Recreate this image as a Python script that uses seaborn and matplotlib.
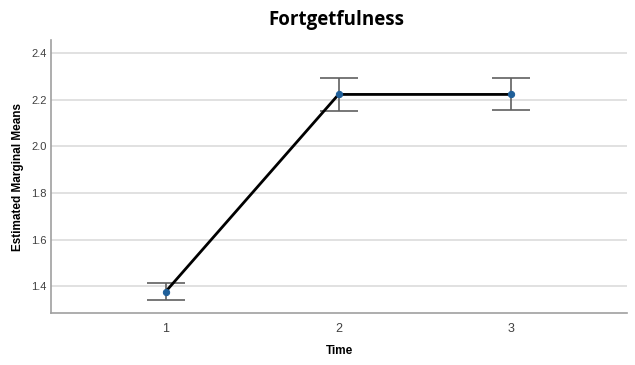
import numpy as np
import pandas as pd
import matplotlib
matplotlib.use("Agg")
import matplotlib.pyplot as plt
import seaborn as sns

# Data
time_points = [1, 2, 3]
means = [1.376, 2.223, 2.223]
err_upper = [1.413, 2.293, 2.293]
err_lower = [1.340, 2.150, 2.155]

df = pd.DataFrame({"Time": time_points, "Mean": means})

sns.set_style("white")
plt.rcParams['font.family'] = ['Liberation Sans', 'DejaVu Sans']

fig = plt.figure(figsize=(6.35, 3.65), dpi=100)
ax = fig.add_axes([0.081, 0.142, 0.907, 0.748])

# grid lines
ax.yaxis.grid(True, color='#dcdcdc', linewidth=1.2)
ax.set_axisbelow(True)

# error bars
yerr = np.array([
    np.array(means) - np.array(err_lower),
    np.array(err_upper) - np.array(means),
])
ax.errorbar(time_points, means, yerr=yerr, fmt='none', ecolor='#606060',
            elinewidth=1.2, capsize=14, capthick=1.2, zorder=2)

sns.lineplot(data=df, x="Time", y="Mean", ax=ax, color='black', linewidth=2,
             marker='o', markersize=4.5, markerfacecolor='#1f5f99',
             markeredgecolor='#1f5f99', zorder=3)

ax.set_xlim(0.34, 3.67)
ax.set_ylim(1.284, 2.456)
ax.set_xticks(time_points)
ax.set_xticklabels([str(t) for t in time_points])
ax.set_yticks([1.4, 1.6, 1.8, 2.0, 2.2, 2.4])
ax.set_yticklabels(['1.4', '1.6', '1.8', '2.0', '2.2', '2.4'])
ax.tick_params(axis='both', length=0, labelcolor='#404040', labelsize=8)
ax.tick_params(axis='x', pad=7, labelsize=9)

for side in ['top', 'right']:
    ax.spines[side].set_visible(False)
for side in ['left', 'bottom']:
    ax.spines[side].set_color('#a0a0a0')
    ax.spines[side].set_linewidth(1.2)

ax.set_xlabel("Time", fontsize=8.5, fontweight='bold', labelpad=7, color='black')
ax.set_ylabel("Estimated Marginal Means", fontsize=8.5, fontweight='bold',
              labelpad=5, color='black')

fig.text(0.53, 0.945, "Fortgetfulness", ha='center', va='center', color='black',
         fontsize=13.5, fontweight='bold', family=['Open Sans', 'DejaVu Sans'])

fig.savefig("out.png", dpi=100)
